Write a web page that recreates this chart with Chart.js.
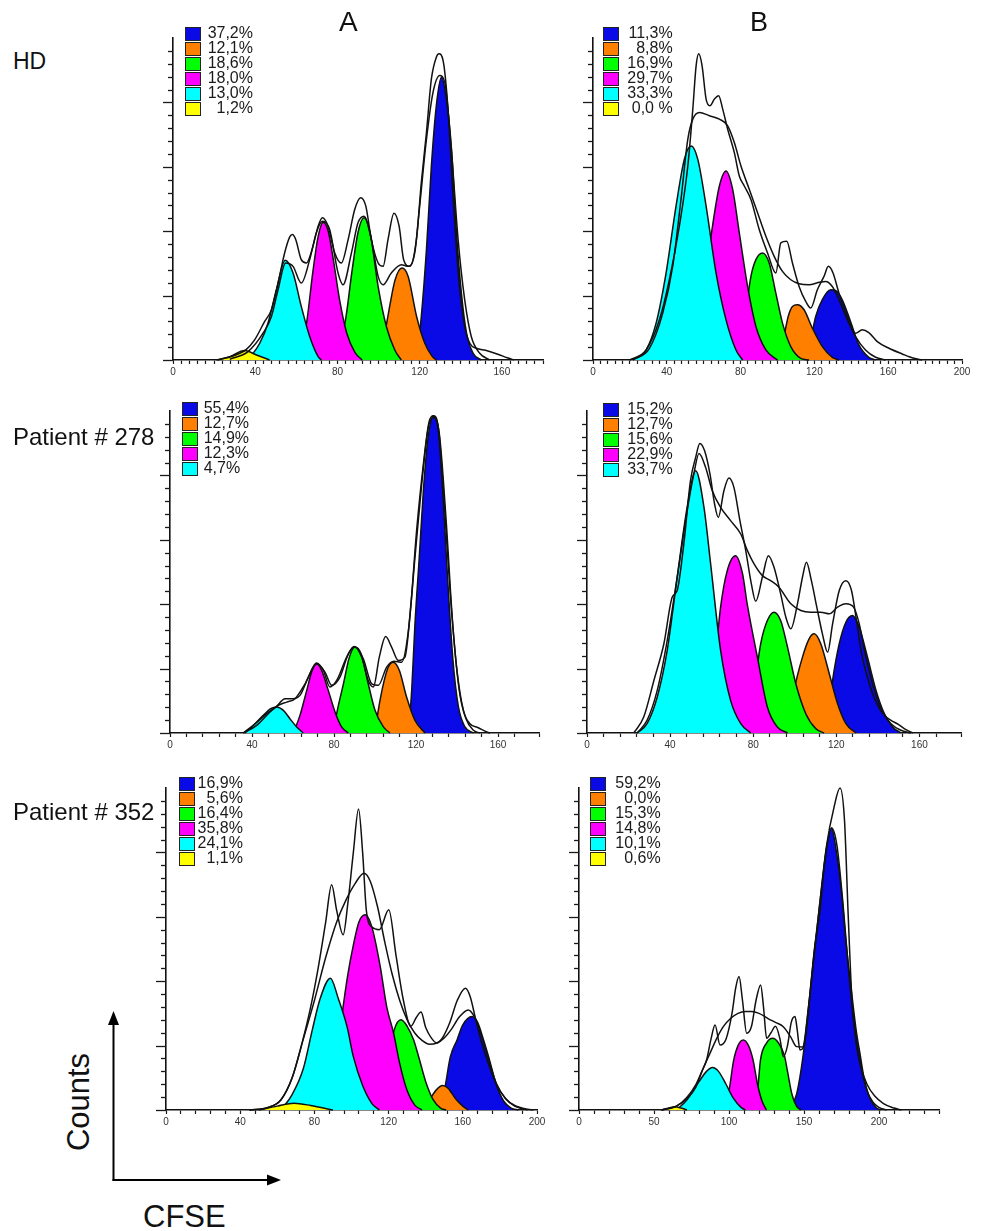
<!DOCTYPE html>
<html>
<head>
<meta charset="utf-8">
<script src="https://cdn.jsdelivr.net/npm/chart.js@4.4.0/dist/chart.umd.min.js"></script>
<style>
  body { margin: 0; background: #fff; font-family: "Liberation Sans", Arial, sans-serif; }
  #page { position: relative; width: 981px; height: 1231px; overflow: hidden; }
  canvas { position: absolute; }
  .lbl { position: absolute; color: #111; white-space: nowrap; line-height: 1; }
  .legend { position: absolute; font-size: 16px; color: #1a1a1a; }
  .legend .row { position: relative; height: 15px; }
  .legend .sw { position: absolute; left: 0; top: 0; width: 16px; height: 14px; border: 1px solid #222; box-sizing: border-box; }
  .legend .tx { position: absolute; top: -2px; line-height: 16px; }
</style>
</head>
<body>
<div id="page">
  <svg width="981" height="1231" style="position:absolute;left:0;top:0">
    <line x1="113.5" y1="1181" x2="113.5" y2="1022" stroke="#000" stroke-width="2"/>
    <polygon points="113.5,1011 108,1025 119,1025" fill="#000"/>
    <line x1="112.5" y1="1180" x2="268" y2="1180" stroke="#000" stroke-width="2"/>
    <polygon points="281,1180 267,1174.5 267,1185.5" fill="#000"/>
  </svg>
</div>
<script>
// ---- values (x = CFSE, y = counts in axis-tick units) ----
const percentColors = ['blue', 'orange', 'green', 'magenta', 'cyan', 'yellow'];

// HD, column A
const hdA_legend = ['37,2%', '12,1%', '18,6%', '18,0%', '13,0%', '1,2%'];
const hdA_yellow = [[21.9,0],[27.6,0.26],[34.9,0.73],[40.6,0.39],[47,0]];
const hdA_cyan = [[36.5,0],[42.2,1.3],[46.2,2.86],[50.3,5.45],[54.6,7.74],[58.4,6.75],[62.4,4.16],[66.5,1.82],[70.6,0.26],[72.2,0]];
const hdA_magenta = [[58,0],[62,0.8],[65,2.9],[68,6.8],[70.5,9.5],[73,10.7],[75.5,10],[78,7.8],[81,4.7],[84.5,2.1],[88.5,0.6],[92,0]];
const hdA_green = [[77,0],[80.5,0.9],[84,3.2],[87,6.8],[90,9.9],[92.9,11.04],[96,9.8],[99.8,5.7],[103.8,2.6],[107.9,0.78],[111.1,0]];
const hdA_orange = [[99,0],[102,1.2],[105,3.8],[108,6.2],[111.4,7.14],[114.4,6.49],[118.5,3.38],[122.5,1.3],[126,0.3],[128.1,0]];
const hdA_blue = [[118.4,0],[120.8,3.38],[123.3,8.57],[125.7,15.06],[128.1,19.74],[130.6,21.95],[133,20.26],[135.5,16.36],[137.9,9.87],[140.3,5.19],[142.8,2.08],[146,0.52],[150,0]];
const hdA_raw = [[21.1,0],[29.2,0.31],[35.7,0.83],[39.7,1.56],[44.6,3],[47.9,3.9],[51.1,5.97],[54.3,8.31],[56.8,9.56],[58.1,9.74],[59.7,9.35],[62.4,7.79],[64.9,7.53],[68.1,8.83],[70.6,10.39],[72.7,11.04],[75.4,10.39],[78.7,8.31],[81.9,7.53],[85.2,9.35],[88.4,11.69],[91.3,12.6],[93.8,11.95],[96.5,9.35],[99.8,7.53],[102.2,7.27],[104.6,9.35],[107.5,11.4],[110,10.39],[112.2,7.79],[115.2,7.27],[118.4,9.35],[120.8,13.77],[123.3,17.66],[125.7,21.82],[128.1,23.51],[129.4,23.77],[131.4,23.25],[133.8,19.48],[136.3,12.47],[139.2,5.97],[141.9,2.6],[144.4,1.3],[147.6,0.91],[152,0.75],[158,0.45],[163,0.15],[166,0]];
const hdA_fit = [[27.6,0.05],[36.5,0.65],[43.8,2.08],[47.9,3.38],[51.1,5.45],[54.8,7.53],[58.4,7.27],[62.4,5.97],[66.5,7.79],[69.7,9.87],[72.7,10.78],[76.2,10.13],[80.3,6.75],[82.7,5.84],[86.8,8.31],[90,10.65],[92.9,11.17],[96.5,9.35],[99.8,6.49],[102.2,5.84],[106.2,6.75],[111.1,7.4],[114.4,7.27],[117.6,8.31],[120,11.95],[123.3,17.14],[126.5,20.78],[129.8,22.08],[132.2,21.56],[135.4,16.36],[138.7,9.35],[141.9,4.68],[145.1,1.82],[149.2,0.52],[154.1,0]];

// HD, column B
const hdB_legend = ['11,3%', '8,8%', '16,9%', '29,7%', '33,3%', '0,0 %'];
const hdB_cyan = [[21.6,0],[28.8,0.78],[34.2,2.86],[39.6,6.75],[45,11.95],[49.5,15.58],[53.2,16.62],[56.8,15.58],[61.3,11.95],[66.7,6.75],[72.1,3.12],[77.5,0.78],[81.1,0]];
const hdB_magenta = [[54.1,0],[57.7,2.6],[61.3,6.75],[64.5,10.13],[68.5,13.51],[72.1,14.68],[75.7,13.25],[79.3,9.87],[83.8,5.71],[88.3,2.6],[93.7,0.78],[100,0]];
const hdB_green = [[77.5,0],[81.1,2.08],[85.6,6.49],[88.3,7.79],[91.9,8.31],[95.5,7.53],[99.1,5.19],[102.7,2.86],[107.2,1.04],[112.6,0.13],[117.1,0]];
const hdB_orange = [[99.1,0],[102.7,1.3],[105.8,3.38],[108.1,4.16],[110.8,4.29],[114.4,3.9],[118.9,2.47],[124.3,1.04],[129.7,0.21],[133.3,0]];
const hdB_blue = [[115.3,0],[118,1.56],[120.7,3.38],[124.3,4.68],[128.8,5.45],[131.5,5.4],[135.1,4.68],[139.6,2.99],[144.1,1.17],[149.5,0.21],[153.2,0]];
const hdB_raw = [[19.8,0],[28.8,0.78],[36,3.12],[41.4,6.23],[46.8,10.39],[51.4,15.06],[54.1,19.48],[55.9,22.86],[57.3,23.77],[59.1,22.86],[61.3,20.26],[63.4,19.74],[65.8,20.26],[68.1,20.52],[70.3,19.48],[73,17.92],[76.6,16.1],[79.3,14.29],[82,13.51],[85.6,12.47],[90.1,10.13],[94.6,8.31],[99.1,6.75],[101.8,9.09],[105,9.22],[108.1,7.53],[111.7,5.71],[115.3,4.55],[118,4.03],[121.6,5.45],[125.2,6.49],[127.6,7.27],[130.1,6.75],[133.3,5.19],[137.8,3.38],[142.3,2.08],[145.9,2.34],[149.5,2.13],[154.1,1.43],[160.4,0.91],[167.6,0.47],[173.9,0.13],[178.4,0]];
const hdB_fit = [[21.6,0],[30.6,0.91],[37.8,3.64],[43.2,7.27],[47.7,12.47],[51.4,17.14],[54.1,18.7],[57.7,19.22],[63.1,18.96],[68.5,18.7],[73,18.18],[76.6,16.88],[80.2,15.06],[84.7,13.25],[89.2,11.43],[93.7,9.61],[98.2,8.05],[102.7,6.88],[107.2,6.23],[111.7,5.92],[117.1,5.84],[122.5,6.03],[126.1,6.1],[129.7,5.71],[133.3,4.68],[137.8,3.12],[142.3,1.82],[147.7,0.78],[153.2,0.21],[158.6,0]];

// Patient # 278, column A
const p278A_legend = ['55,4%', '12,7%', '14,9%', '12,3%', '4,7%'];
const p278A_cyan = [[36.6,0],[40.7,0.59],[45.5,1.37],[49.1,1.89],[52,2.02],[55.3,1.76],[58.5,1.11],[61.8,0.47],[65,0]];
const p278A_magenta = [[60.2,0],[63.4,1.37],[66.7,3.31],[69.1,4.73],[71.5,5.37],[74,4.86],[77.2,3.31],[80.5,1.63],[83.7,0.47],[87,0]];
const p278A_green = [[79.7,0],[81.3,1.5],[84.6,3.82],[87.5,5.89],[90.2,6.67],[93.2,6.15],[96.7,3.82],[100,1.76],[104.1,0.47],[107.3,0]];
const p278A_orange = [[100,0],[101.6,1.76],[104.1,3.82],[106.5,5.12],[108.9,5.5],[111.9,4.86],[115.4,2.79],[119.5,0.98],[124.4,0]];
const p278A_blue = [[116.3,0],[117.9,3.31],[119.5,8.48],[121.6,13.64],[123.6,18.81],[125.7,22.69],[128.5,24.63],[130.9,23.46],[133,18.81],[135.3,12.35],[137.9,5.89],[140.7,2.02],[143.9,0.47],[148,0]];
const p278A_raw = [[35.8,0],[41.5,0.72],[47.2,1.5],[52,2.07],[56.1,2.66],[59.8,2.66],[63.4,2.92],[67.5,4.34],[71.5,5.43],[74.8,4.86],[78,3.57],[81.3,4.08],[86.2,5.89],[89.8,6.72],[93.5,5.89],[96.7,4.08],[99.2,3.57],[102.1,5.89],[105.2,7.49],[108.1,6.67],[111.4,5.63],[114.6,5.89],[117.4,9.77],[120.3,15.71],[123.6,20.88],[126.5,24.24],[128.5,24.63],[130.9,23.72],[133.7,18.04],[136.6,11.06],[139.8,5.12],[143.1,1.76],[146.3,0.72],[150.4,0.41],[154.5,0.08],[156.1,0]];
const p278A_fit = [[35.8,0],[42.3,0.59],[48.8,1.63],[52.8,2.14],[56.9,2.4],[61,2.66],[65.9,3.82],[71.5,5.37],[75.6,4.73],[78.9,3.7],[82.9,4.34],[87,6.15],[90.2,6.67],[94.3,5.76],[98.4,3.82],[101.6,3.7],[105.7,5.12],[109.3,5.58],[113,5.5],[116.3,7.96],[119.5,13.64],[122.8,19.33],[126,23.72],[128.5,24.5],[131.4,23.2],[134.6,16.74],[137.9,8.48],[141.1,3.31],[144.4,1.11],[148,0.21],[151.2,0]];

// Patient # 278, column B
const p278B_legend = ['15,2%', '12,7%', '15,6%', '22,9%', '33,7%'];
const p278B_cyan = [[24.1,0],[28.9,0.72],[33.8,2.79],[38.6,6.41],[43.4,12.09],[48.2,17.52],[52.3,20.36],[56.3,17.52],[59.5,13.13],[64.3,6.41],[69.1,2.53],[74,0.72],[78.8,0]];
const p278B_magenta = [[57.9,0],[61.1,4.6],[64.3,9.77],[67.5,12.61],[71.5,13.77],[74.8,12.4],[77.2,9.92],[82,5.89],[86.8,2.02],[91.6,0.47],[96.5,0]];
const p278B_green = [[77.2,0],[80.4,3.31],[83.6,6.93],[86.8,8.73],[90,9.38],[93.2,8.73],[96.5,6.67],[100.5,3.82],[105.3,1.5],[110.1,0.34],[114.1,0]];
const p278B_orange = [[96.5,0],[99.7,3.31],[103.7,5.89],[106.9,7.31],[109.3,7.7],[112.5,6.93],[116.6,4.6],[120.6,2.27],[124.6,0.72],[129.4,0]];
const p278B_blue = [[115,0],[118.2,4.08],[121.4,6.93],[124.6,8.6],[127.8,9.12],[131,8.22],[135,5.89],[139.1,3.31],[143.1,1.5],[147.1,0.47],[151.1,0]];
const p278B_raw = [[22.5,0],[27.3,1.24],[32.2,4.08],[37,6.93],[41,10.54],[43.4,11.06],[46.6,14.68],[49.8,19.59],[52.3,21.4],[54.3,22.48],[56.6,21.91],[59.2,20.1],[61.4,17.78],[63.2,16.74],[65.9,18.81],[68.3,19.79],[70.7,19.07],[73.6,16.49],[76.4,14.16],[79.1,11.58],[81.2,10.23],[84.4,12.09],[87.3,13.77],[90,12.87],[93.2,10.8],[95.7,8.99],[98.1,8.09],[101.3,10.03],[103.7,12.09],[105.6,13.26],[108,11.83],[110.6,9.77],[113.3,7.7],[115.8,6.28],[118.2,8.48],[121.4,11.06],[124.6,11.83],[127.3,11.06],[129.7,8.73],[132.2,6.15],[135.4,4.08],[139.1,2.4],[143.1,1.37],[146.3,0.98],[149.8,0.67],[153.5,0.26],[156.8,0]];
const p278B_fit = [[24.1,0],[28.9,0.98],[33.8,3.31],[38.6,7.18],[43.4,12.09],[48.2,17.26],[51.4,20.1],[53.9,21.71],[57.1,20.62],[60.3,18.81],[64.3,17.52],[69.1,16.49],[74,15.45],[77.2,14.16],[80.4,13.13],[84.4,12.22],[88.4,11.83],[92.4,11.32],[98.1,10.03],[102.9,9.51],[107.7,9.38],[112.5,9.38],[116.6,9.25],[120.6,9.77],[124.6,10.03],[128.3,9.77],[131,8.48],[134.2,5.89],[138.3,3.31],[142.3,1.63],[146.3,0.72],[151.1,0.21],[155.9,0]];

// Patient # 352, column A
const p352A_legend = ['16,9%', '5,6%', '16,4%', '35,8%', '24,1%', '1,1%'];
const p352A_yellow = [[50,0],[60,0.3],[69,0.52],[78,0.35],[90,0]];
const p352A_cyan = [[62,0],[68,1.2],[74,3.2],[79,6.3],[83,8.6],[88.6,10.23],[93,8.6],[97.6,6.47],[101,4.14],[106,1.9],[111,0.5],[115,0]];
const p352A_magenta = [[84,0],[88,1.3],[92,4],[95,7.5],[98,10.5],[101,12.8],[104,14.6],[107.4,15.15],[111,14.2],[115.5,11.14],[119,8],[122.7,5.96],[126,3.6],[130,1.5],[134,0.4],[138,0]];
const p352A_green = [[114,0],[117,1.5],[120,4],[123,6.2],[126.7,7],[130,6.5],[133.5,5.44],[136.2,4.14],[140,2.2],[144,0.8],[148,0.15],[151,0]];
const p352A_orange = [[138,0],[142,0.8],[146,1.6],[149,1.9],[152,1.7],[156,0.9],[160,0.3],[163,0]];
const p352A_blue = [[146,0],[150,1.5],[153.3,4.14],[156.9,5.44],[160,6.6],[165,7.25],[168,6.8],[171.2,5.44],[173.9,4.14],[178,2],[182,0.7],[186,0.15],[190,0]];
const p352A_raw = [[45,0],[55,0.2],[62,0.8],[68,2.5],[73,5],[78,8],[82,11],[86,14.5],[89.3,17.48],[92,15.5],[95.5,13.6],[98,16],[101,20],[103.8,23.36],[106,20],[108,15.5],[111,14.2],[115,14],[120.1,15.54],[124,12],[128,8.5],[132,6.5],[135,7.2],[137.5,7.6],[140,6.4],[143,5.6],[146,5.2],[149,5.6],[153,6.8],[157,8.5],[161.4,9.46],[164,8.8],[167,7],[170,5.3],[174,3.5],[178,2],[183,0.9],[188,0.35],[195,0.05],[198,0]];
const p352A_fit = [[45,0],[55,0.2],[62,0.8],[68,2.5],[74,5.5],[80,8.5],[86,11.8],[92,14.6],[97,16.3],[102,17.6],[106.7,18.39],[110,17.8],[114,15.8],[118,13],[122,10.5],[126,8.5],[130,7],[134,6],[138,5.4],[142,5.1],[146,5.2],[150,5.6],[154,6.3],[158,7.2],[162.9,7.77],[166,7.3],[170,5.8],[174,3.9],[178,2.1],[183,0.9],[188,0.3],[195,0]];

// Patient # 352, column B
const p352B_legend = ['59,2%', '0,0%', '15,3%', '14,8%', '10,1%', '0,6%'];
const p352B_yellow = [[55,0],[60,0.15],[64,0.25],[68,0.15],[72,0]];
const p352B_cyan = [[65,0],[72,0.8],[80,2.2],[85,3],[89,3.3],[93,3],[98,2],[103,0.9],[108,0.2],[111,0]];
const p352B_magenta = [[96,0],[100,1.5],[103,3.8],[106,5],[109.5,5.44],[113,5],[116,3.9],[119,2],[122,0.7],[125,0]];
const p352B_green = [[115,0],[119,1.5],[121,3.9],[125,5.2],[129.1,5.57],[133,5.2],[137,4.2],[139,3],[142,1.2],[145,0.3],[148,0]];
const p352B_blue = [[140,0],[145,1.2],[149.6,4.4],[154,9.07],[157,12.5],[160.7,15.5],[164,19.5],[168.4,21.9],[171,20.5],[175.1,16.8],[178,13],[181.8,9.07],[185,6],[187.3,4.4],[190,2.5],[194,0.9],[198,0.2],[201,0]];
const p352B_raw = [[55,0],[65,0.3],[72,0.9],[78,1.8],[82,3],[85.1,3.9],[88,5.5],[90.7,6.6],[94,5.05],[98,5.5],[102,7.5],[104.5,9.5],[106.7,10.36],[109,8.5],[111.8,5.96],[115,6.5],[118,8.5],[121.1,9.71],[123,8],[125.1,5.57],[128,6],[131,6.5],[134,5.5],[136.2,4.14],[139,5],[141.5,6.8],[144,7.25],[145.5,6.2],[147.3,4.66],[150,5],[155,10],[160,15.5],[165,20.5],[170,23.5],[174,25],[177,22.5],[179.5,15],[182,8.5],[185,5],[188,3.3],[192,2],[197,1.1],[203,0.5],[210,0.15],[215,0]];
const p352B_fit = [[55,0],[65,0.3],[72,1],[78,2],[83,3.3],[87.3,4.4],[92,5.6],[96.2,6.47],[101,7.1],[106,7.5],[111,7.64],[115.1,7.64],[120,7.5],[126,7.1],[131,6.8],[136.2,6.47],[141,5.7],[145.1,4.92],[149,4.9],[153,8],[157,12.5],[161,16.5],[165,20.2],[168.5,21.9],[172,20.5],[176,16],[180,10.5],[184,6],[188,3.3],[192,1.5],[196,0.6],[200,0.2],[205,0]];

// ---- layout and styling ----
const COLORS = { blue: '#0a0ae6', orange: '#ff8000', green: '#00ff00', magenta: '#ff00ff', cyan: '#00ffff', yellow: '#ffff00' };
const Y_PX = 12.87, Y_MAX = 25, PAD_L = 30, PAD_T = 8, PAD_R = 14, X_H = 26;
const LINE_W = 1.5;

const panels = [
  { ox: 173.3, base: 360, pxX: 2.055, xMax: 180, minor: 4, labelStep: 40,
    peaks: { yellow: hdA_yellow, cyan: hdA_cyan, magenta: hdA_magenta, green: hdA_green, orange: hdA_orange, blue: hdA_blue },
    raw: hdA_raw, fit: hdA_fit, legend: hdA_legend, lg: { x: 185, y: 26.7, right: 253, align: 'right' } },
  { ox: 593.3, base: 360, pxX: 1.845, xMax: 200, minor: 4, labelStep: 40,
    peaks: { cyan: hdB_cyan, magenta: hdB_magenta, green: hdB_green, orange: hdB_orange, blue: hdB_blue },
    raw: hdB_raw, fit: hdB_fit, legend: hdB_legend, lg: { x: 603.3, y: 26.7, right: 672.7, align: 'right' } },
  { ox: 170.3, base: 732.7, pxX: 2.05, xMax: 180, minor: 8, labelStep: 40,
    peaks: { cyan: p278A_cyan, magenta: p278A_magenta, green: p278A_green, orange: p278A_orange, blue: p278A_blue },
    raw: p278A_raw, fit: p278A_fit, legend: p278A_legend, lg: { x: 181.7, y: 402.3, right: 249.3, align: 'left' } },
  { ox: 587, base: 732.7, pxX: 2.075, xMax: 180, minor: 8, labelStep: 40,
    peaks: { cyan: p278B_cyan, magenta: p278B_magenta, green: p278B_green, orange: p278B_orange, blue: p278B_blue },
    raw: p278B_raw, fit: p278B_fit, legend: p278B_legend, lg: { x: 602.7, y: 402.7, right: 672.7, align: 'right' } },
  { ox: 166, base: 1110, pxX: 1.855, xMax: 200, minor: 8, labelStep: 40,
    peaks: { yellow: p352A_yellow, cyan: p352A_cyan, magenta: p352A_magenta, green: p352A_green, orange: p352A_orange, blue: p352A_blue },
    raw: p352A_raw, fit: p352A_fit, legend: p352A_legend, lg: { x: 178.6, y: 776.7, right: 242.9, align: 'right' } },
  { ox: 579.3, base: 1110, pxX: 1.5, xMax: 240, minor: 10, labelStep: 50,
    peaks: { yellow: p352B_yellow, cyan: p352B_cyan, magenta: p352B_magenta, green: p352B_green, blue: p352B_blue },
    raw: p352B_raw, fit: p352B_fit, legend: p352B_legend, lg: { x: 590, y: 776.7, right: 660.7, align: 'right' } }
];

const texts = [
  { t: 'A', x: 339, base: 32, size: 28 },
  { t: 'B', x: 750, base: 32, size: 27 },
  { t: 'HD', x: 13, base: 70, size: 23 },
  { t: 'Patient # 278', x: 13, base: 445, size: 24 },
  { t: 'Patient # 352', x: 13, base: 820, size: 24 },
  { t: 'CFSE', x: 143, base: 1227, size: 31 }
];

const page = document.getElementById('page');
const toXY = (arr) => arr.map(([x, y]) => ({ x, y }));

// count-axis tick marks: short every step, long every 5 steps, none at the top end
const countTicks = {
  id: 'countTicks',
  afterDraw(chart) {
    const y = chart.scales.y, ctx = chart.ctx, left = chart.chartArea.left;
    ctx.save();
    ctx.strokeStyle = '#1a1a1a';
    ctx.lineWidth = 1.3;
    for (let v = 0; v < Y_MAX; v += 1) {
      const py = Math.round(y.getPixelForValue(v)) + 0.5;
      const len = v % 5 === 0 ? 10 : 5;
      ctx.beginPath();
      ctx.moveTo(left - len, py);
      ctx.lineTo(left, py);
      ctx.stroke();
    }
    ctx.restore();
  }
};

Chart.defaults.font.family = '"Liberation Sans", Arial, sans-serif';

panels.forEach((p) => {
  const plotW = p.xMax * p.pxX, plotH = Y_MAX * Y_PX;
  const left = Math.round(p.ox - PAD_L), top = Math.round(p.base - plotH - PAD_T);
  const w = Math.round(PAD_L + plotW + PAD_R), h = Math.round(PAD_T + plotH + X_H);
  const canvas = document.createElement('canvas');
  canvas.width = w; canvas.height = h;
  canvas.style.left = left + 'px'; canvas.style.top = top + 'px';
  canvas.style.width = w + 'px'; canvas.style.height = h + 'px';
  page.appendChild(canvas);

  const outline = (data) => ({
    data: toXY(data), borderColor: '#111', borderWidth: LINE_W, fill: false,
    pointRadius: 0, cubicInterpolationMode: 'monotone', clip: false
  });
  const datasets = [outline(p.raw), outline(p.fit)];
  ['yellow', 'cyan', 'magenta', 'green', 'orange', 'blue'].forEach((c) => {
    if (!p.peaks[c]) return;
    datasets.push({
      data: toXY(p.peaks[c]), backgroundColor: COLORS[c], borderColor: '#111', borderWidth: LINE_W,
      fill: 'origin', pointRadius: 0, cubicInterpolationMode: 'monotone', clip: false
    });
  });

  new Chart(canvas.getContext('2d'), {
    type: 'line',
    data: { datasets },
    options: {
      responsive: false,
      animation: false,
      layout: { padding: { left: 0, top: PAD_T, right: PAD_R, bottom: 0 } },
      plugins: { legend: { display: false }, tooltip: { enabled: false } },
      scales: {
        x: {
          type: 'linear', min: 0, max: p.xMax,
          afterFit: (s) => { s.height = X_H; },
          border: { display: true, color: '#111', width: 1.6 },
          grid: { drawOnChartArea: false, drawTicks: true, tickLength: 4, tickColor: '#1a1a1a', tickWidth: 1.2 },
          ticks: {
            stepSize: p.minor, autoSkip: false, maxRotation: 0, padding: 2,
            color: '#333', font: { size: 10 },
            callback: (v) => (v % p.labelStep === 0 ? String(v) : '')
          }
        },
        y: {
          type: 'linear', min: 0, max: Y_MAX,
          afterFit: (s) => { s.width = PAD_L; },
          border: { display: true, color: '#111', width: 1.6 },
          grid: { display: false },
          ticks: { stepSize: 1, display: false }
        }
      }
    },
    plugins: [countTicks]
  });

  // legend of generation percentages
  const lg = document.createElement('div');
  lg.className = 'legend';
  lg.style.left = p.lg.x + 'px';
  lg.style.top = p.lg.y + 'px';
  p.legend.forEach((label, i) => {
    const row = document.createElement('div');
    row.className = 'row';
    const sw = document.createElement('div');
    sw.className = 'sw';
    sw.style.background = COLORS[percentColors[i]];
    const tx = document.createElement('div');
    tx.className = 'tx';
    tx.textContent = label;
    if (p.lg.align === 'right') {
      tx.style.width = '60px';
      tx.style.textAlign = 'right';
      tx.style.left = (p.lg.right - p.lg.x - 60) + 'px';
    } else {
      tx.style.left = '22px';
    }
    row.appendChild(sw);
    row.appendChild(tx);
    lg.appendChild(row);
  });
  page.appendChild(lg);
});

texts.forEach((o) => {
  const d = document.createElement('div');
  d.className = 'lbl';
  d.textContent = o.t;
  d.style.fontSize = o.size + 'px';
  d.style.left = o.x + 'px';
  d.style.top = (o.base - 0.85 * o.size) + 'px';
  page.appendChild(d);
});

// rotated y caption
const counts = document.createElement('div');
counts.className = 'lbl';
counts.textContent = 'Counts';
counts.style.fontSize = '31px';
counts.style.left = '77.5px';
counts.style.top = '1101.7px';
counts.style.transform = 'translate(-50%, -50%) rotate(-90deg)';
page.appendChild(counts);
</script>
</body>
</html>
